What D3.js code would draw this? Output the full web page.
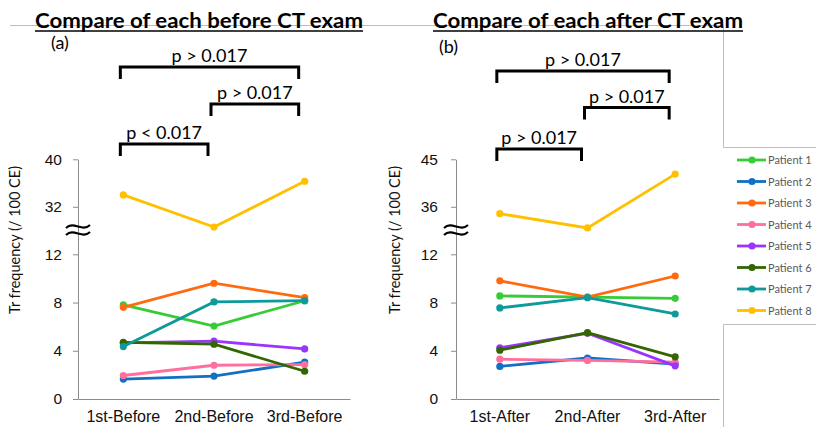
<!DOCTYPE html>
<html>
<head>
<meta charset="utf-8">
<script src="https://cdn.jsdelivr.net/npm/d3@7"></script>
<style>
  body { margin: 0; background: #fff; }
  svg { display: block; font-family: Lato, "Open Sans", sans-serif; }
</style>
</head>
<body>
<svg id="chart" width="816" height="427"></svg>
<script>
// categories
var categoriesBefore = ['1st-Before', '2nd-Before', '3rd-Before'];
var categoriesAfter = ['1st-After', '2nd-After', '3rd-After'];
var patients = ['Patient 1', 'Patient 2', 'Patient 3', 'Patient 4',
  'Patient 5', 'Patient 6', 'Patient 7', 'Patient 8'];
var patientColors = ['#35cc35', '#1170c4', '#ff6a10', '#ff6f9e',
  '#9a35ff', '#336600', '#0e9a9a', '#ffc000'];

// Tr frequency (/100 CE), one row per patient
var beforeValues = [
  [7.8, 6.05, 8.15],
  [1.65, 1.9, 3.05],
  [7.6, 9.6, 8.4],
  [1.95, 2.8, 2.85],
  [4.65, 4.8, 4.15],
  [4.7, 4.55, 2.3],
  [4.35, 8.05, 8.15],
  [34.0, 28.6, 36.3]
];
var afterValues = [
  [8.55, 8.45, 8.35],
  [2.7, 3.4, 2.9],
  [9.8, 8.45, 10.2],
  [3.3, 3.2, 3.05],
  [4.25, 5.45, 2.75],
  [4.05, 5.5, 3.5],
  [7.55, 8.4, 7.05],
  [34.7, 32.0, 42.2]
];

// tick labels / broken axis
var beforeTicks = [0, 4, 8, 12, 32, 40];
var afterTicks = [0, 4, 8, 12, 36, 45];
var beforeBreak = [12, 24];
var afterBreak = [12, 27];

// significance brackets: [from, to, label]
var beforeBrackets = [[0, 2, 'p > 0.017'], [1, 2, 'p > 0.017'], [0, 1, 'p < 0.017']];
var afterBrackets = [[0, 2, 'p > 0.017'], [1, 2, 'p > 0.017'], [0, 1, 'p > 0.017']];

var svg = d3.select('#chart');

// gray frame remnants
var frame = svg.append('g')
  .attr('fill', 'none')
  .attr('stroke', '#bdbdbd')
  .attr('stroke-width', 1);
frame.append('path').attr('d', 'M10,25.5H723.5V147.5H816');
frame.append('path').attr('d', 'M816,324.5H723.5V427');

function drawPanel(opt) {
  var g = svg.append('g');

  var x = d3.scaleBand()
    .domain(opt.categories)
    .range([opt.left, opt.right]);

  var top = opt.ticks[opt.ticks.length - 1];
  var y = d3.scaleLinear()
    .domain([0, opt.brk[0], opt.brk[1], top])
    .range([399, 254.3, 254.3, 159.3]);

  var cx = function (i) { return x(opt.categories[i]) + x.bandwidth() / 2; };

  // y axis
  var yAxis = g.append('g')
    .attr('transform', 'translate(' + opt.left + ',0)')
    .call(d3.axisLeft(y).tickValues(opt.ticks).tickSize(5).tickPadding(opt.tickPad).tickSizeOuter(0));
  yAxis.select('.domain').attr('stroke', '#8c8c8c');
  yAxis.selectAll('.tick line').attr('stroke', '#8c8c8c');
  yAxis.selectAll('.tick text')
    .attr('font-size', 15.5)
    .attr('fill', '#111');

  // x axis
  var xAxis = g.append('g')
    .attr('transform', 'translate(0,399)')
    .call(d3.axisBottom(x).tickSize(0).tickPadding(12));
  xAxis.select('.domain').attr('stroke', '#8c8c8c');
  xAxis.selectAll('.tick text')
    .attr('font-size', 16)
    .attr('fill', '#111');

  // axis break mark
  var brkY = 230;
  [-3.5, 3.5].forEach(function (dy) {
    var yy = brkY + dy;
    g.append('path')
      .attr('d', 'M' + (opt.left - 12) + ',' + (yy + 1.5) +
        'C' + (opt.left - 4) + ',' + (yy - 6) + ' ' + (opt.left + 4) + ',' + (yy + 6) + ' ' + (opt.left + 12) + ',' + (yy - 1.5))
      .attr('fill', 'none')
      .attr('stroke', '#000')
      .attr('stroke-width', 2.2);
  });

  // y label
  g.append('text')
    .attr('transform', 'translate(' + opt.labelX + ',240) rotate(-90)')
    .attr('text-anchor', 'middle')
    .attr('font-size', 14.5)
    .attr('fill', '#111')
    .text('Tr frequency (/ 100 CE)');

  // lines
  var line = d3.line()
    .x(function (d, i) { return cx(i); })
    .y(function (d) { return y(d); });

  opt.values.forEach(function (vals, p) {
    g.append('path')
      .datum(vals)
      .attr('d', line)
      .attr('fill', 'none')
      .attr('stroke', patientColors[p])
      .attr('stroke-width', 2.8);
    g.selectAll('circle.p' + p)
      .data(vals)
      .enter()
      .append('circle')
      .attr('class', 'p' + p)
      .attr('cx', function (d, i) { return cx(i); })
      .attr('cy', function (d) { return y(d); })
      .attr('r', 3.6)
      .attr('fill', patientColors[p]);
  });

  // title
  g.append('text')
    .attr('x', opt.titleX)
    .attr('y', 28)
    .attr('font-size', 20)
    .attr('font-weight', 'bold')
    .attr('fill', '#000')
    .attr('textLength', opt.titleW)
    .attr('lengthAdjust', 'spacingAndGlyphs')
    .text(opt.title);
  g.append('line')
    .attr('x1', opt.titleX).attr('x2', opt.titleX + opt.titleW)
    .attr('y1', 31).attr('y2', 31)
    .attr('stroke', '#000')
    .attr('stroke-width', 1.5);

  // panel letter
  g.append('text')
    .attr('x', opt.letterX)
    .attr('y', opt.letterY)
    .attr('font-size', 18)
    .attr('fill', '#000')
    .text(opt.letter);

  // brackets
  opt.brackets.forEach(function (b, k) {
    var by = opt.bracketY[k];
    var x1 = cx(b[0]) - 3;
    var x2 = cx(b[1]) - 6;
    g.append('path')
      .attr('d', 'M' + x1 + ',' + (by + 12) + 'V' + by + 'H' + x2 + 'V' + (by + 12))
      .attr('fill', 'none')
      .attr('stroke', '#000')
      .attr('stroke-width', 3);
    g.append('text')
      .attr('x', (x1 + x2) / 2)
      .attr('y', by - 5)
      .attr('text-anchor', 'middle')
      .attr('font-size', 18)
      .attr('fill', '#000')
      .text(b[2]);
  });
}

drawPanel({
  categories: categoriesBefore, values: beforeValues, ticks: beforeTicks, brk: beforeBreak,
  left: 78, right: 350, tickPad: 11, labelX: 20,
  title: 'Compare of each before CT exam', titleX: 35, titleW: 328,
  letter: '(a)', letterX: 51, letterY: 49,
  brackets: beforeBrackets, bracketY: [67, 104, 144]
});

drawPanel({
  categories: categoriesAfter, values: afterValues, ticks: afterTicks, brk: afterBreak,
  left: 456, right: 719, tickPad: 13, labelX: 400,
  title: 'Compare of each after CT exam', titleX: 433, titleW: 310,
  letter: '(b)', letterX: 439, letterY: 53,
  brackets: afterBrackets, bracketY: [71, 107.5, 149]
});

// legend
var legend = svg.append('g').attr('transform', 'translate(737,160)');
var row = legend.selectAll('g')
  .data(patients)
  .enter()
  .append('g')
  .attr('transform', function (d, i) { return 'translate(0,' + (i * 21.5) + ')'; });
row.append('line')
  .attr('x1', 0).attr('x2', 29)
  .attr('stroke', function (d, i) { return patientColors[i]; })
  .attr('stroke-width', 2.8);
row.append('circle')
  .attr('cx', 15).attr('r', 3.6)
  .attr('fill', function (d, i) { return patientColors[i]; });
row.append('text')
  .attr('x', 31).attr('y', 4)
  .attr('font-size', 11)
  .attr('fill', '#595959')
  .text(function (d) { return d; });
</script>
</body>
</html>
